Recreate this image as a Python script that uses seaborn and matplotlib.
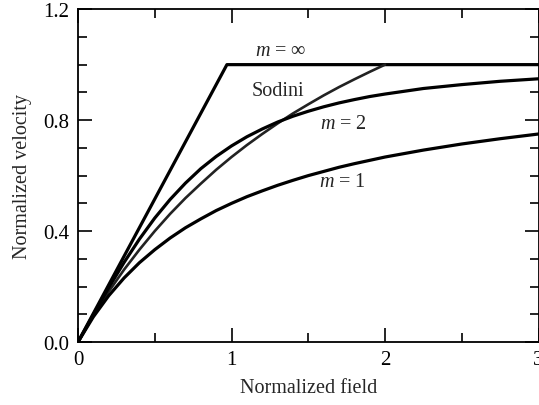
import pandas as pd
import matplotlib.pyplot as plt
import seaborn as sns
from matplotlib.ticker import MultipleLocator, FixedLocator

# Datos (campo normalizado vs velocidad normalizada)
field = [0, 0.1, 0.2, 0.3, 0.4, 0.5, 0.6, 0.7, 0.8, 0.9, 1.0, 1.1, 1.2, 1.3, 1.4, 1.5, 1.6,
         1.7, 1.8, 1.9, 2.0, 2.25, 2.5, 2.75, 3.0]
v_m1 = [0, 0.091, 0.167, 0.231, 0.286, 0.333, 0.375, 0.412, 0.444, 0.474, 0.500, 0.524, 0.545,
        0.565, 0.583, 0.600, 0.615, 0.630, 0.643, 0.655, 0.667, 0.692, 0.714, 0.733, 0.750]
v_m2 = [0, 0.099, 0.196, 0.287, 0.371, 0.447, 0.514, 0.573, 0.625, 0.669, 0.707, 0.740, 0.768,
        0.793, 0.814, 0.832, 0.848, 0.862, 0.874, 0.885, 0.894, 0.914, 0.928, 0.940, 0.949]
field_sod = [0, 0.1, 0.2, 0.3, 0.4, 0.5, 0.6, 0.7, 0.8, 0.9, 1.0, 1.1, 1.2, 1.3, 1.4, 1.5,
             1.6, 1.7, 1.8, 1.9, 2.0]
v_sod = [0, 0.095, 0.182, 0.261, 0.333, 0.400, 0.462, 0.519, 0.571, 0.621, 0.667, 0.710, 0.750,
         0.788, 0.824, 0.857, 0.889, 0.919, 0.947, 0.974, 1.0]
field_inf = [0, 0.97, 3.0]
v_inf = [0, 1.0, 1.0]

labels = ["$m$ = ∞", "Sodini", "$m$ = 2", "$m$ = 1"]
label_x = [1.32, 1.30, 1.73, 1.72]
label_y = [1.052, 0.906, 0.787, 0.578]

sns.set_theme(style="ticks")
plt.rcParams["font.family"] = ["Liberation Serif", "DejaVu Serif"]
plt.rcParams["mathtext.fontset"] = "custom"
plt.rcParams["mathtext.it"] = "Liberation Serif:italic"
plt.rcParams["mathtext.rm"] = "Liberation Serif"

fig = plt.figure(figsize=(5.39, 4.06), dpi=100)
ax = fig.add_axes([0.1447, 0.155, 0.8545, 0.82])

sns.lineplot(x=field_inf, y=v_inf, color="black", lw=2.3, ax=ax)
sns.lineplot(x=field_sod, y=v_sod, color="#222222", lw=1.9, ax=ax)
sns.lineplot(x=field, y=v_m2, color="black", lw=2.3, ax=ax)
sns.lineplot(x=field, y=v_m1, color="black", lw=2.3, ax=ax)

for t, x, y in zip(labels, label_x, label_y):
    ax.text(x, y, t, ha="center", va="center", fontsize=14.5)

ax.set_xlim(0, 3)
ax.set_ylim(0, 1.2)
ax.xaxis.set_major_locator(FixedLocator([0, 1, 2, 3]))
ax.xaxis.set_minor_locator(MultipleLocator(0.5))
ax.yaxis.set_major_locator(FixedLocator([0, 0.4, 0.8, 1.2]))
ax.yaxis.set_minor_locator(MultipleLocator(0.1))
ax.set_xticklabels(["0", "1", "2", "3"])
ax.set_yticklabels(["0.0", "0.4", "0.8", "1.2"])
ax.tick_params(which="both", direction="in", top=True, right=True, width=1.2,
               labelsize=15, colors="black")
ax.tick_params(which="major", length=10, pad=6)
ax.tick_params(which="minor", length=6.5)
for s in ax.spines.values():
    s.set_linewidth(1.3)
    s.set_color("black")

ax.set_xlabel("Normalized field", fontsize=14.5, labelpad=6)
ax.set_ylabel("Normalized velocity", fontsize=14.5, labelpad=8)

plt.savefig("out.png", dpi=100)
plt.close()
